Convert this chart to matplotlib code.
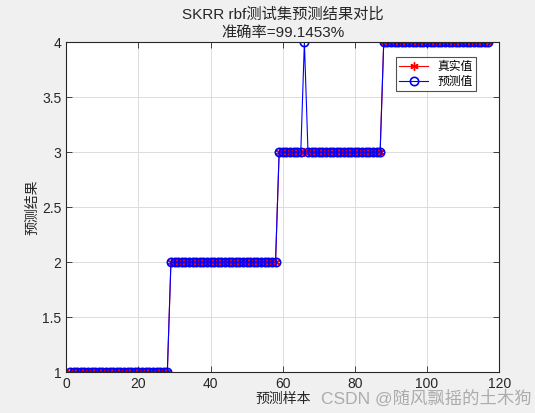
import numpy as np
import matplotlib
matplotlib.use('Agg')
import matplotlib.pyplot as plt

plt.rcParams['font.family'] = ['Liberation Sans', 'Noto Sans CJK SC', 'DejaVu Sans']

# 类别分段: 1-28 -> 1, 29-58 -> 2, 59-87 -> 3, 88-117 -> 4
class_counts = [28, 30, 29, 30]
class_labels = [1, 2, 3, 4]
true_vals = np.repeat(class_labels, class_counts)
pred_vals = true_vals.copy()
wrong_idx = [66]        # 样本编号 (1-based)
wrong_val = [4]
for i, v in zip(wrong_idx, wrong_val):
    pred_vals[i - 1] = v
samples = np.arange(1, len(true_vals) + 1)
acc = np.mean(true_vals == pred_vals) * 100

fig = plt.figure(figsize=(5.35, 4.13), dpi=100)
fig.patch.set_facecolor('#f0f0f0')
ax = fig.add_axes([0.124, 0.099, 0.809, 0.799])

# MATLAB风格的星号标记
ax.plot(samples, true_vals, '-', marker=(6, 2, 0), color='red', lw=0.8, ms=6,
        mew=1.0, label='真实值')
ax.plot(samples, pred_vals, '-o', color='blue', lw=0.8, ms=6,
        mfc='none', mew=1.2, label='预测值')

ax.set_xlim(0, 120)
ax.set_ylim(1, 4)
ax.set_xticks(np.arange(0, 121, 20))
ax.set_yticks(np.arange(1, 4.01, 0.5))
ax.set_yticklabels(['1', '1.5', '2', '2.5', '3', '3.5', '4'])
ax.grid(True, color='#dcdcdc', lw=0.7)
ax.set_axisbelow(True)
ax.tick_params(direction='in', top=True, right=True, labelsize=10,
               colors='#262626', length=4, width=0.6)
for s in ax.spines.values():
    s.set_color('#262626')
    s.set_linewidth(0.8)
for t in ax.get_xticklabels() + ax.get_yticklabels():
    t.set_color('#262626')

ax.set_title('SKRR rbf测试集预测结果对比\n准确率=%.4f%%' % acc,
             fontsize=11, color='#262626', pad=4, linespacing=1.35)
ax.set_xlabel('预测样本', fontsize=10, color='#262626', labelpad=1)
ax.set_ylabel('预测结果', fontsize=10, color='#262626', labelpad=2)

leg = ax.legend(loc='upper right', bbox_to_anchor=(0.96, 0.972), fontsize=8.5,
                frameon=True, fancybox=False, edgecolor='#262626',
                borderpad=0.3, handlelength=2.4, labelspacing=0.25)
leg.get_frame().set_linewidth(0.8)

fig.text(0.6, 0.035, 'CSDN @随风飘摇的土木狗', fontsize=12.5, color='#a0a0a0',
         alpha=0.85, ha='left', va='center')

fig.savefig('out.png', dpi=100, facecolor=fig.get_facecolor())
